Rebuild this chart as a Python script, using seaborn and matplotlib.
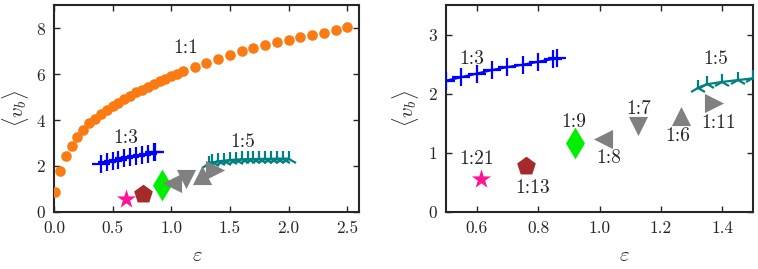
import numpy as np
import pandas as pd
import matplotlib
matplotlib.use("Agg")
import matplotlib.pyplot as plt
import seaborn as sns

# --- data ---
eps_11 = [0.01, 0.05, 0.10, 0.15, 0.20, 0.25, 0.30, 0.35, 0.40, 0.45, 0.50, 0.55,
          0.60, 0.65, 0.70, 0.75, 0.80, 0.85, 0.90, 0.95, 1.00, 1.05, 1.10,
          1.20, 1.30, 1.40, 1.50, 1.60, 1.70, 1.80, 1.90, 2.00, 2.10, 2.20,
          2.30, 2.40, 2.50]
vb_11 = [0.86, 1.77, 2.42, 2.88, 3.25, 3.58, 3.85, 4.05, 4.25, 4.45, 4.60, 4.75,
         4.90, 5.05, 5.20, 5.32, 5.45, 5.57, 5.70, 5.80, 5.90, 6.00, 6.12,
         6.32, 6.50, 6.65, 6.84, 7.00, 7.15, 7.27, 7.40, 7.50, 7.60, 7.70,
         7.80, 7.90, 8.03]

eps_13 = [0.40, 0.45, 0.50, 0.55, 0.60, 0.65, 0.70, 0.75, 0.80, 0.85, 0.86]
vb_13 = [2.10, 2.16, 2.22, 2.28, 2.34, 2.40, 2.45, 2.49, 2.54, 2.59, 2.60]

eps_15 = [1.32, 1.35, 1.40, 1.45, 1.50, 1.55, 1.60, 1.65, 1.70, 1.75, 1.80,
          1.85, 1.90, 1.95, 2.00]
vb_15 = [2.10, 2.16, 2.20, 2.23, 2.26, 2.28, 2.29, 2.30, 2.30, 2.31, 2.31,
         2.31, 2.32, 2.32, 2.32]

# single ratios: label, eps, <v_b>
single_lab = ["1:21", "1:13", "1:9", "1:8", "1:7", "1:6", "1:11"]
single_eps = [0.613, 0.76, 0.921, 1.01, 1.127, 1.266, 1.372]
single_vb = [0.55, 0.78, 1.16, 1.24, 1.45, 1.62, 1.84]
single_mk = ["*", "p", "d", "<", "v", "^", ">"]
single_col = ["#ff1493", "#a52a2a", "#00ee00", "#808080", "#808080", "#808080", "#808080"]
single_sz = [210, 200, 260, 190, 190, 190, 190]

# label positions (data coords)
lab_left = {"1:1": (1.12, 7.14), "1:3": (0.61, 3.23), "1:5": (1.61, 3.05)}
lab_right = {"1:3": (0.585, 2.59), "1:5": (1.377, 2.59), "1:7": (1.127, 1.74),
             "1:9": (0.915, 1.52), "1:21": (0.599, 0.90), "1:13": (0.781, 0.41),
             "1:8": (1.029, 0.91), "1:6": (1.255, 1.29), "1:11": (1.388, 1.51)}

sns.set_style("ticks")
plt.rcParams["font.family"] = ["cmr10", "DejaVu Serif"]
plt.rcParams["mathtext.fontset"] = "cm"
plt.rcParams["axes.unicode_minus"] = False
plt.rcParams["axes.formatter.use_mathtext"] = True

fig = plt.figure(figsize=(7.58, 2.69), dpi=100)
ax1 = fig.add_axes([0.0712, 0.2119, 0.4024, 0.7695])
ax2 = fig.add_axes([0.5884, 0.2119, 0.4050, 0.7695])

df11 = pd.DataFrame({"eps": eps_11, "vb": vb_11})
df13 = pd.DataFrame({"eps": eps_13, "vb": vb_13})
df15 = pd.DataFrame({"eps": eps_15, "vb": vb_15})

for ax in (ax1, ax2):
    sns.scatterplot(data=df11, x="eps", y="vb", ax=ax, color="#fb7a12", s=58,
                    linewidth=0, zorder=3)
    sns.lineplot(data=df13, x="eps", y="vb", ax=ax, color="blue", lw=1.6,
                 marker="+", markersize=13, mew=1.6, mec="blue", zorder=3)
    sns.lineplot(data=df15, x="eps", y="vb", ax=ax, color="#008080", lw=1.6,
                 marker="2", markersize=12, mew=1.6, mec="#008080", zorder=3)
    for e, v, m, c, s in zip(single_eps, single_vb, single_mk, single_col, single_sz):
        sns.scatterplot(x=[e], y=[v], ax=ax, marker=m, color=c, s=s,
                        linewidth=0, zorder=4)

    ax.tick_params(direction="in", top=True, right=True, length=4.5, width=1,
                   labelsize=12.5, pad=6)
    for sp in ax.spines.values():
        sp.set_linewidth(1.5)
        sp.set_visible(True)
    ax.set_xlabel(r"$\varepsilon$", fontsize=15)
    ax.set_ylabel(r"$\langle v_b \rangle$", fontsize=15)

for t, (x, y) in lab_left.items():
    ax1.text(x, y, t, fontsize=14, ha="center", va="center")
for t, (x, y) in lab_right.items():
    ax2.text(x, y, t, fontsize=14, ha="center", va="center")

ax1.set_xlim(0, 2.6)
ax1.set_ylim(0, 9)
ax1.set_xticks([0.0, 0.5, 1.0, 1.5, 2.0, 2.5])
ax1.set_xticklabels(["0.0", "0.5", "1.0", "1.5", "2.0", "2.5"])
ax1.set_yticks([0, 2, 4, 6, 8])
ax1.yaxis.set_label_coords(-0.076, 0.5)
ax1.xaxis.set_label_coords(0.47, -0.17)

ax2.set_xlim(0.5, 1.5)
ax2.set_ylim(0, 3.5)
ax2.set_xticks([0.6, 0.8, 1.0, 1.2, 1.4])
ax2.set_xticklabels(["0.6", "0.8", "1.0", "1.2", "1.4"])
ax2.set_yticks([0, 1, 2, 3])
ax2.yaxis.set_label_coords(-0.082, 0.5)
ax2.xaxis.set_label_coords(0.58, -0.17)

fig.savefig("out.png", dpi=100)
